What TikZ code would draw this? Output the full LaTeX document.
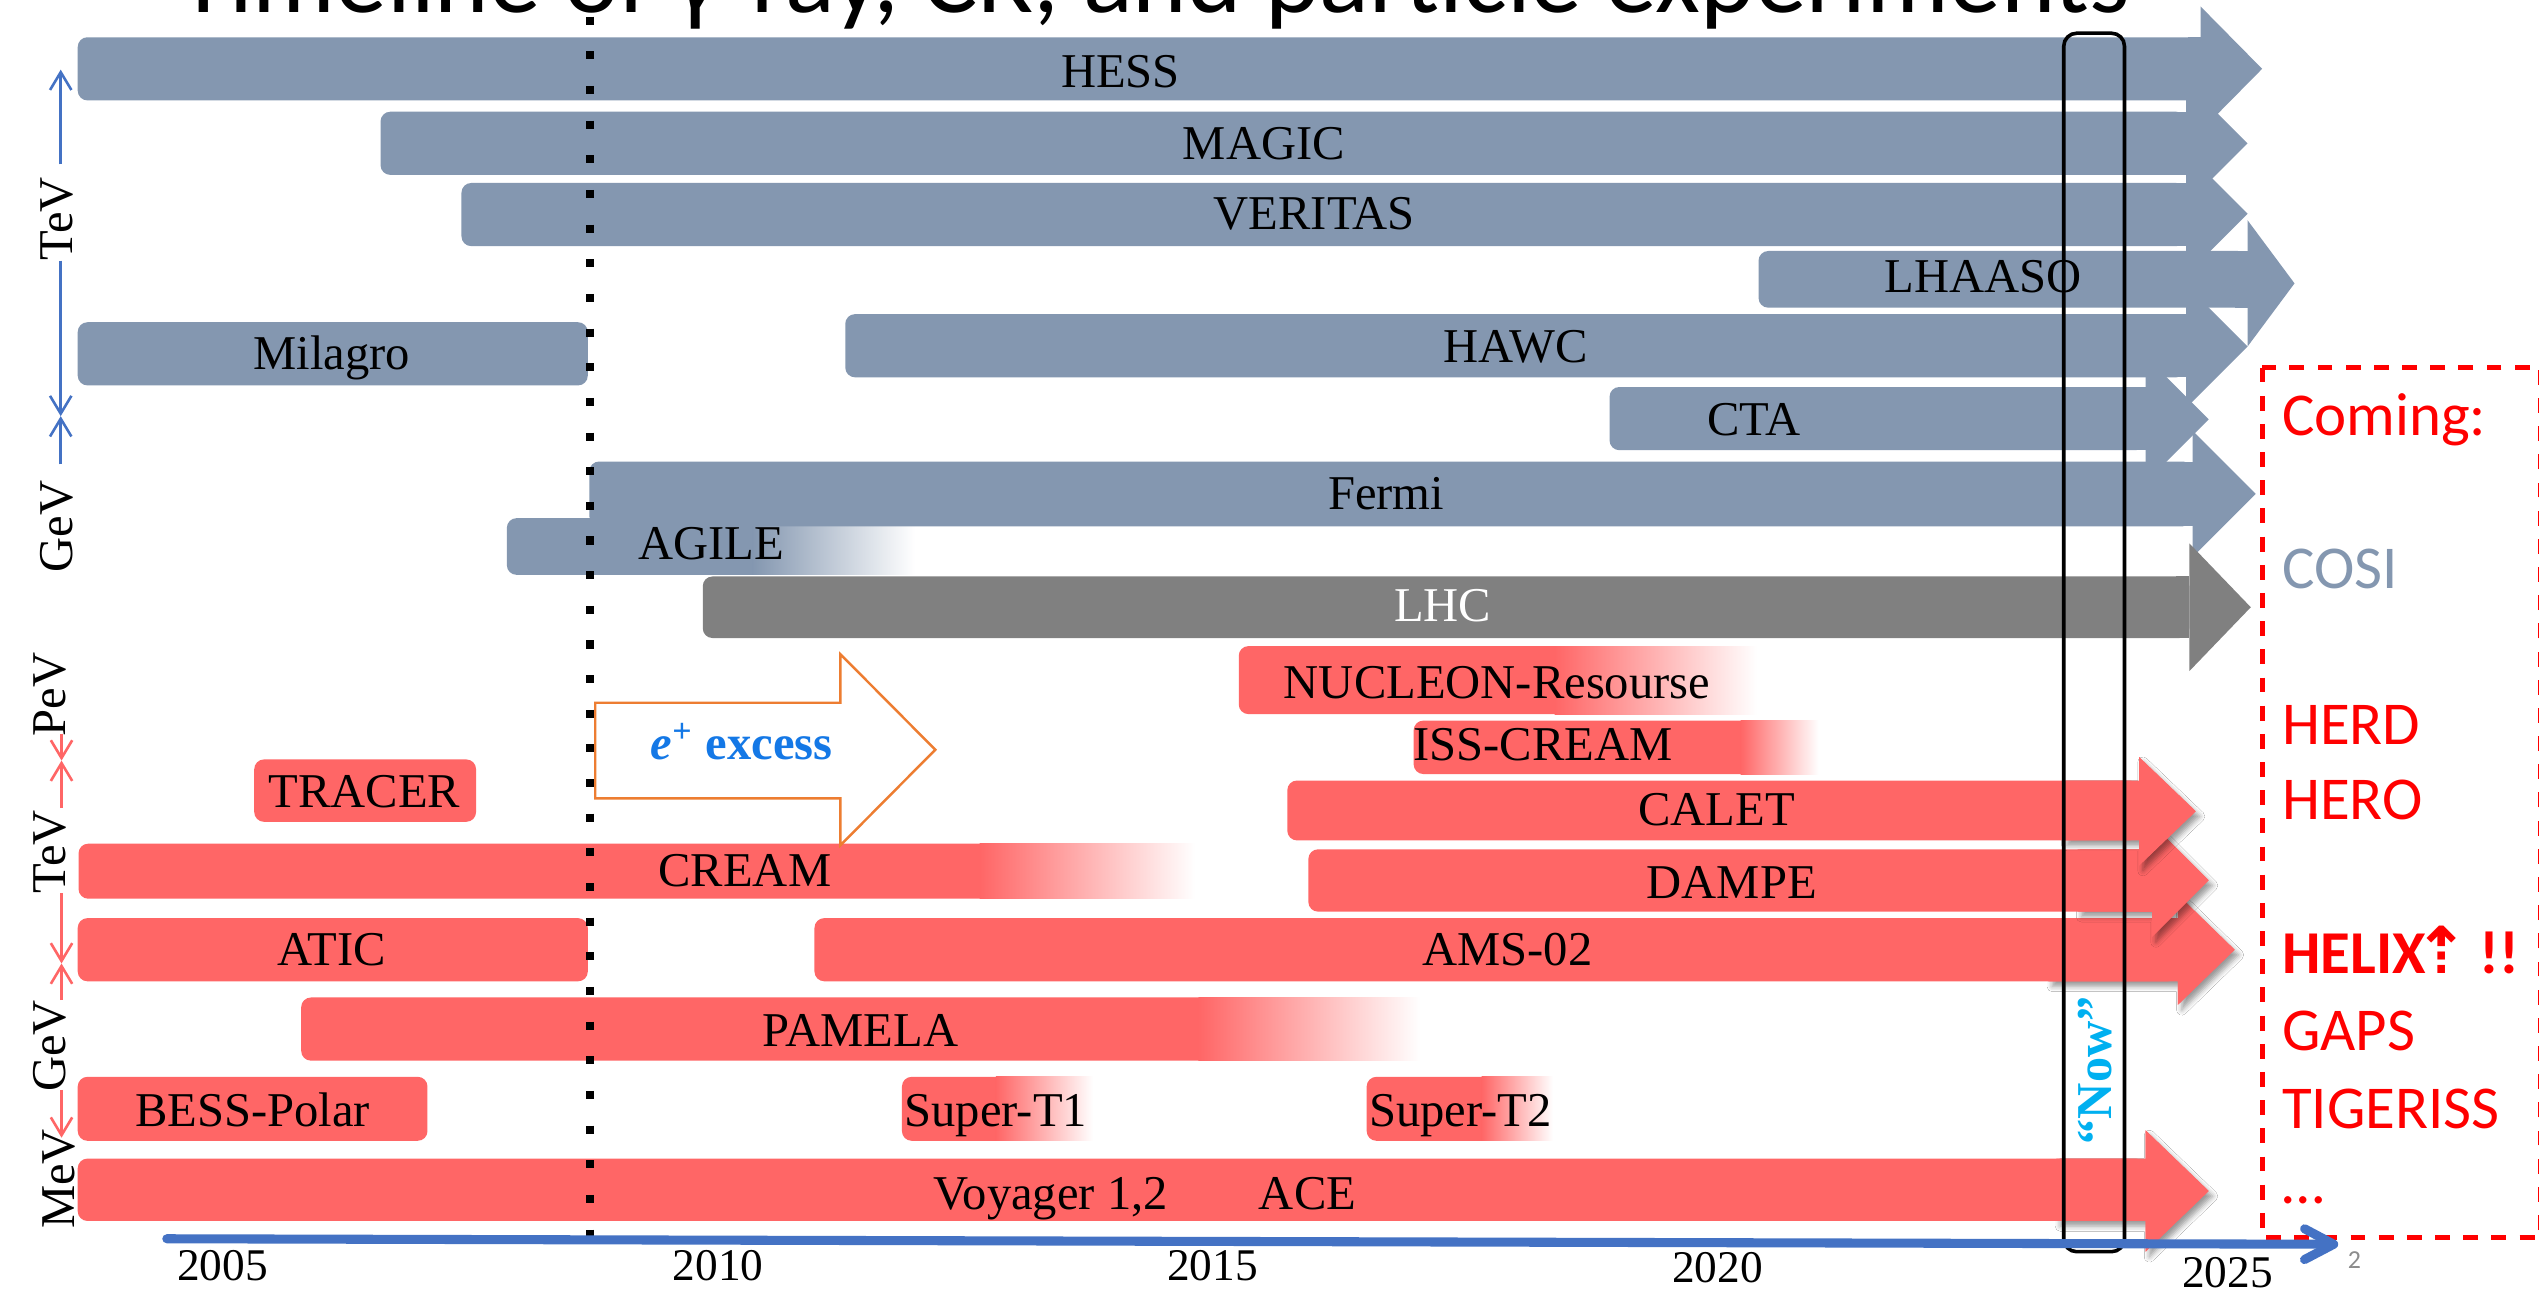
\documentclass[tikz,border=0pt]{standalone}
\usepackage{fontspec}
\setmainfont{Liberation Serif}
\newfontfamily\carl{Carlito}
\newfontfamily\djv{DejaVu Sans}
\usetikzlibrary{arrows.meta,shadows.blur}
\definecolor{barblue}{RGB}{132,151,176}
\definecolor{barred}{RGB}{255,102,102}
\definecolor{lhcgray}{RGB}{128,128,128}
\definecolor{eorange}{RGB}{237,125,49}
\definecolor{eblue}{RGB}{20,120,230}
\definecolor{nowblue}{RGB}{0,176,240}
\definecolor{axisblue}{RGB}{68,114,196}
\definecolor{boxred}{RGB}{255,0,0}
\definecolor{slidegray}{RGB}{140,140,140}
\newcommand\arrowbar[8]{%
  \fill[#8, rounded corners=3pt] (#1,#2) rectangle (#4,#3);
  \fill[#8] ({#4-8},#2) rectangle (#4,#3);
  \fill[#8] (#4,#5) -- (#7,{(#5+#6)/2}) -- (#4,#6) -- cycle;}
% arrow bar whose right part (from x=#9) casts a soft shadow
\newcommand\arrowbarS[9]{%
  \fill[#8, headshadow] (#9,#2) -- (#4,#2) -- (#4,#5) -- (#7,{(#5+#6)/2})
     -- (#4,#6) -- (#4,#3) -- (#9,#3) -- cycle;
  \arrowbar{#1}{#2}{#3}{#4}{#5}{#6}{#7}{#8}}
\newcommand\fadebar[6]{%
  \fill[#6, rounded corners=3pt] (#1,#2) rectangle ({#4+6},#3);
  \shade[left color=#6, right color=white] (#4,#2) rectangle (#5,#3);}
\newcommand\plainbar[5]{%
  \fill[#5, rounded corners=3pt] (#1,#2) rectangle (#3,#4);}
\tikzset{
  headshadow/.style={blur shadow={shadow xshift=1.2pt, shadow yshift=-1.6pt,
     shadow blur radius=1.6pt, shadow opacity=40}},
  lbl/.style={anchor=base, inner sep=0pt, font=\fontsize{15}{15}\selectfont},
  vlab/.style={anchor=base, inner sep=0pt, rotate=90, font=\fontsize{15}{15}\selectfont},
  year/.style={anchor=base, inner sep=0pt, font=\fontsize{14}{14}\selectfont},
  rtxt/.style={anchor=base west, inner sep=0pt, text=boxred, font=\carl\fontsize{18.8}{18.8}\selectfont},
  axb/.style={draw=axisblue, line width=0.8pt, -{Straight Barb[length=5.5pt,width=6.6pt]}},
  axr/.style={draw=barred, line width=0.8pt, -{Straight Barb[length=5.5pt,width=6.6pt]}},
}
\begin{document}
\begin{tikzpicture}[x=0.5pt,y=-0.5pt]
\useasboundingbox (0,0) rectangle (1568,799);
\fill[white] (0,0) rectangle (1568,799);

% ---------- gamma-ray bars ----------
\arrowbar{48}{23}{62}{1359}{4}{81}{1397}{barblue}
\arrowbar{235}{69}{108}{1350}{50.5}{126.5}{1388}{barblue}
\arrowbar{285}{113}{152}{1350}{94}{170}{1388}{barblue}
\arrowbar{1086}{155}{190}{1388}{136}{214}{1417}{barblue}
\arrowbar{522}{194}{233}{1350}{176}{252}{1388}{barblue}
\plainbar{48}{199}{363}{238}{barblue}
\arrowbar{994}{239}{278}{1325}{220}{298}{1364}{barblue}
\fadebar{313}{320}{355}{465}{565}{barblue}
\arrowbar{364}{285}{325}{1354}{266}{344}{1393}{barblue}
\arrowbar{434}{356}{394}{1352}{335.5}{414.5}{1390}{lhcgray}

% ---------- cosmic-ray / particle bars ----------
\fadebar{765}{399}{441}{960}{1085}{barred}
\fadebar{873}{445}{478}{1075}{1123}{barred}
\plainbar{157}{469}{294}{507.5}{barred}
\fadebar{48.5}{521}{555}{605}{738}{barred}
\plainbar{48}{567}{363}{606}{barred}
\arrowbarS{503}{567}{606}{1345}{552.5}{620.5}{1380}{barred}{1265}
\arrowbarS{808}{524.5}{563}{1329}{508.6}{578.6}{1364}{barred}{1283}
\arrowbarS{795}{482}{519}{1321}{467.5}{534.5}{1356}{barred}{1274}
\fadebar{186}{616}{655}{740}{877}{barred}
\plainbar{48}{665}{264}{704.5}{barred}
\fadebar{557}{665}{704.5}{615}{675}{barred}
\fadebar{844}{665}{704.5}{915}{959}{barred}
\arrowbarS{48}{715.5}{754}{1325}{698}{773}{1364}{barred}{1270}

% ---------- e+ excess arrow ----------
\draw[eorange, line width=0.75pt, fill=white]
  (367.6,434) -- (519,434) -- (519,404) -- (577.6,463) -- (519,522)
  -- (519,493) -- (367.6,493) -- cycle;
\node[anchor=base, inner sep=0pt, text=eblue, font=\bfseries\fontsize{15}{15}\selectfont]
  (eplus) at (458,468.8) {\textit{e}\textsuperscript{+} excess};

% ---------- dotted line (2008.7) ----------
\draw[black, line width=2.5pt, dash pattern=on 2.5pt off 8.2pt] (364.5,10.3) -- (364.5,764.3);

% ---------- bar labels ----------
\node[lbl] (hess) at (692,53.8) {HESS};
\node[lbl] (magic) at (780.5,98.6) {MAGIC};
\node[lbl] (veritas) at (811.7,142) {VERITAS};
\node[lbl] (lhaaso) at (1224.7,180.5) {LHAASO};
\node[lbl] (milagro) at (205,228) {Milagro};
\node[lbl] (hawc) at (936,224) {HAWC};
\node[lbl] (cta) at (1083,268.8) {CTA};
\node[lbl] (fermi) at (856,314.4) {Fermi};
\node[lbl] (agile) at (439,345.7) {AGILE};
\node[lbl, text=white] (lhc) at (891,384) {LHC};
\node[lbl] (nucleon) at (924.5,431.4) {NUCLEON-Resourse};
\node[lbl] (isscream) at (953,469.5) {ISS-CREAM};
\node[lbl] (tracer) at (225,498.4) {TRACER};
\node[lbl] (calet) at (1060,510) {CALET};
\node[lbl] (cream) at (460,547.3) {CREAM};
\node[lbl] (dampe) at (1069.5,555) {DAMPE};
\node[lbl] (atic) at (205,596.2) {ATIC};
\node[lbl] (ams) at (931,596.2) {AMS-02};
\node[lbl] (pamela) at (531.4,646.5) {PAMELA};
\node[lbl] (bess) at (156,695.5) {BESS-Polar};
\node[lbl] (supt1) at (615,695.5) {Super-T1};
\node[lbl] (supt2) at (902,695.5) {Super-T2};
\node[lbl] (voyager) at (649,746.8) {Voyager 1,2};
\node[lbl] (ace) at (807.5,746.8) {ACE};

% ---------- energy scale on the left ----------
\node[vlab] (tevb) at (45,135) {TeV};
\node[vlab] (gevb) at (45,325) {GeV};
\draw[axb] (37.5,101.5) -- (37.5,43);
\draw[axb] (37.5,161) -- (37.5,257);
\draw[axb] (37.5,286.8) -- (37.5,257);

\node[vlab] (pevr) at (40.5,429) {PeV};
\node[vlab] (tevr) at (40.5,526) {TeV};
\node[vlab] (gevr) at (40.5,646) {GeV};
\node[vlab] (mevr) at (46,728) {MeV};
\draw[axr] (38,453) -- (38,469.7);
\draw[axr] (38,499) -- (38,469.7);
\draw[axr] (38,551.5) -- (38,595);
\draw[axr] (38,617.7) -- (38,595);
\draw[axr] (38,673) -- (38,702.6);

% ---------- "Now" box ----------
\draw[black, line width=1.1pt, rounded corners=4pt] (1274.5,20.5) rectangle (1312,773);
\node[rotate=90, inner sep=0pt, text=nowblue, font=\bfseries\fontsize{15.5}{15.5}\selectfont]
  (now) at (1293.6,661) {“Now”};

% ---------- coming box ----------
\draw[boxred, line width=1.5pt, dash pattern=on 4.6pt off 4.1pt] (1397,227) rectangle (1569,764);
\node[rtxt] (coming) at (1409,268.8) {Coming:};
\node[rtxt, text=barblue] (cosi) at (1409,363.6) {COSI};
\node[rtxt] (herd) at (1409,459.7) {HERD};
\node[rtxt] (hero) at (1409,506) {HERO};
\node[rtxt, font=\carl\bfseries\fontsize{18.8}{18.8}\selectfont] (helix) at (1409,601.4)
  {HELIX\kern-3.5pt{\djv\bfseries\fontsize{20}{20}\selectfont ⇡}\kern-1pt\ !!};
\node[rtxt] (gaps) at (1409,649) {GAPS};
\node[rtxt] (tigeriss) at (1409,696.7) {TIGERISS};
\node[rtxt] (dots) at (1409,743) {…};

% ---------- time axis ----------
\coordinate (axstart) at (103,765);
\coordinate (axend) at (1444,768.4);
\draw[axisblue, line width=2.8pt, line cap=round,
  -{Straight Barb[length=9pt,width=9.5pt,line cap=round,line join=round]}] (axstart) -- (axend);
\node[year] (y2005) at (137.5,791) {2005};
\node[year] (y2010) at (443.6,791) {2010};
\node[year] (y2015) at (748.7,791) {2015};
\node[year] (y2020) at (1060.6,792) {2020};
\node[year] (y2025) at (1375.6,795) {2025};
\node[inner sep=0pt, text=slidegray, font=\carl\fontsize{8}{8}\selectfont] (slide) at (1454,778) {2};

% ---------- title (cut off at top) ----------
\node[anchor=base west, inner sep=0pt, font=\carl\fontsize{32}{32}\selectfont] (title)
  at (110,7.8) {Timeline of γ-ray, CR, and particle experiments};
\end{tikzpicture}
\end{document}
